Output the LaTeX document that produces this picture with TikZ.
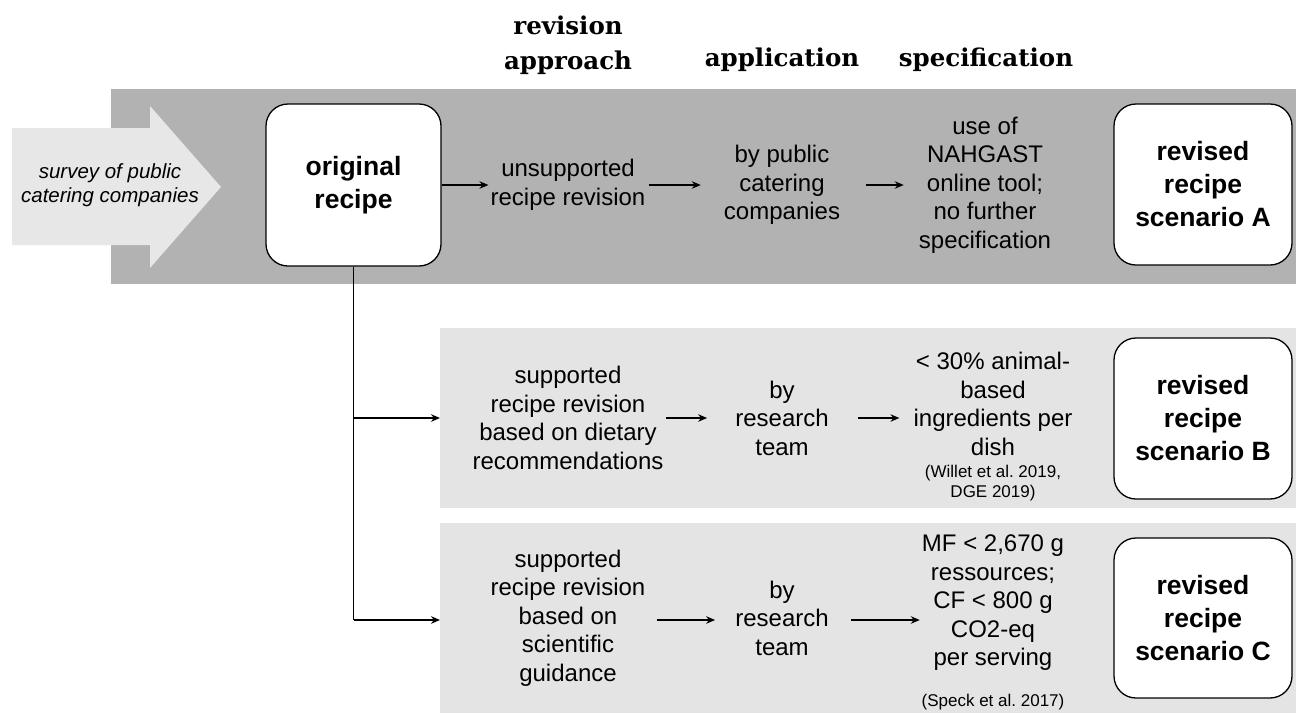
\documentclass[tikz,border=0pt]{standalone}
\usepackage{fontspec}
\setmainfont{Liberation Sans}
\newfontfamily\hdrfont{DejaVu Serif}
\usetikzlibrary{arrows.meta}
\definecolor{bandAcol}{gray}{0.70}
\definecolor{bandBcol}{gray}{0.895}
\definecolor{arrowcol}{gray}{0.905}
\frenchspacing
\begin{document}
\begin{tikzpicture}[x=1pt,y=-1pt,
 txt/.style={align=center, font=\fontsize{24}{28.5}\selectfont, inner sep=2pt},
 cite/.style={align=center, font=\fontsize{17}{20.5}\selectfont, inner sep=1pt},
 rbox/.style={draw=black, line width=1.3pt, fill=white, rounded corners=22pt, align=center,
   font=\fontsize{26.5}{33}\selectfont\bfseries, inner sep=0pt},
 hdr/.style={align=center, font=\hdrfont\bfseries\fontsize{24.5}{35}\selectfont},
 arr/.style={-{Stealth[length=9pt,width=7.5pt]}, line width=1.3pt},
 ln/.style={line width=1.3pt},
 band/.style={inner sep=0pt, anchor=north west}]
\useasboundingbox (0,0) rectangle (1296,713);
\fill[white] (0,0) rectangle (1296,713);
% bands
\node[band, fill=bandAcol, minimum width=1185pt, minimum height=195pt] (bandA) at (111,89) {};
\node[band, fill=bandBcol, minimum width=856pt, minimum height=180pt] (bandB) at (440,328) {};
\node[band, fill=bandBcol, minimum width=856pt, minimum height=190pt] (bandC) at (440,523) {};
% survey arrow
\fill[arrowcol] (12,128) -- (150,128) -- (150,106) -- (221,187) -- (150,268) -- (150,245) -- (12,245) -- cycle;
\node[align=center, font=\fontsize{20.5}{24}\selectfont\itshape] (survey) at (110,185) {survey of public\\catering companies};
% headers
\node[hdr] (h1) at (568,45) {revision\\approach};
\node[hdr] (h2) at (782,60) {application};
\node[hdr] (h3) at (986,60) {specification};
% boxes
\node[rbox, minimum width=175pt, minimum height=162pt] (orig) at (353.5,185) {original\\recipe};
\node[rbox, minimum width=178pt, minimum height=161pt] (revA) at (1203,184.5) {revised\\recipe\\scenario A};
\node[rbox, minimum width=178pt, minimum height=161pt] (revB) at (1203,418.5) {revised\\recipe\\scenario B};
\node[rbox, minimum width=178pt, minimum height=160pt] (revC) at (1203,618) {revised\\recipe\\scenario C};
% row A
\node[txt] (apA) at (568,185) {unsupported\\recipe revision};
\node[txt] (byA) at (782,185) {by public\\catering\\companies};
\node[txt] (spA) at (985,185) {use of\\NAHGAST\\online tool;\\no further\\specification};
% row B
\node[txt] (apB) at (568,418) {supported\\recipe revision\\based on dietary\\recommendations};
\node[txt] (byB) at (782,418) {by\\research\\team};
\node[txt] (spB) at (993,404) {< 30\% animal-\\based\\ingredients per\\dish};
\node[cite] (ciB) at (993,483) {(Willet et al. 2019,\\DGE 2019)};
% row C
\node[txt] (apC) at (568,618) {supported\\recipe revision\\based on\\scientific\\guidance};
\node[txt] (byC) at (782,618) {by\\research\\team};
\node[txt] (spC) at (993,603) {MF < 2,670 g\\ressources;\\CF < 800 g\\CO2-eq\\per serving};
\node[cite] (ciC) at (993,702) {(Speck et al. 2017)};
% connectors
\coordinate (jB) at (orig.south |- 0,418);
\coordinate (jC) at (orig.south |- 0,620);
\draw[ln] (orig.south) -- (jC);
\draw[arr] (jB) -- (jB -| bandB.west);
\draw[arr] (jC) -- (jC -| bandC.west);
% row A arrows
\draw[arr] (orig.east |- apA.west) -- (apA.west);
\draw[arr, shorten <=1pt, shorten >=21pt] (apA.east) -- (byA.west);
\draw[arr, shorten >=13pt] (byA.east) ++(24,0) -- (spA.west);
% row B arrows
\draw[arr, shorten >=26pt] (apB.east) -- (apB.east -| byB.west);
\draw[arr, shorten <=27pt, shorten >=12pt] (byB.east) -- (byB.east -| spB.west);
% row C arrows
\draw[arr, shorten <=9pt, shorten >=18pt] (apC.east |- 0,620) -- (byC.west |- 0,620);
\draw[arr, shorten <=20pt] (byC.east |- 0,620) -- (spC.west |- 0,620);
\end{tikzpicture}
\end{document}
